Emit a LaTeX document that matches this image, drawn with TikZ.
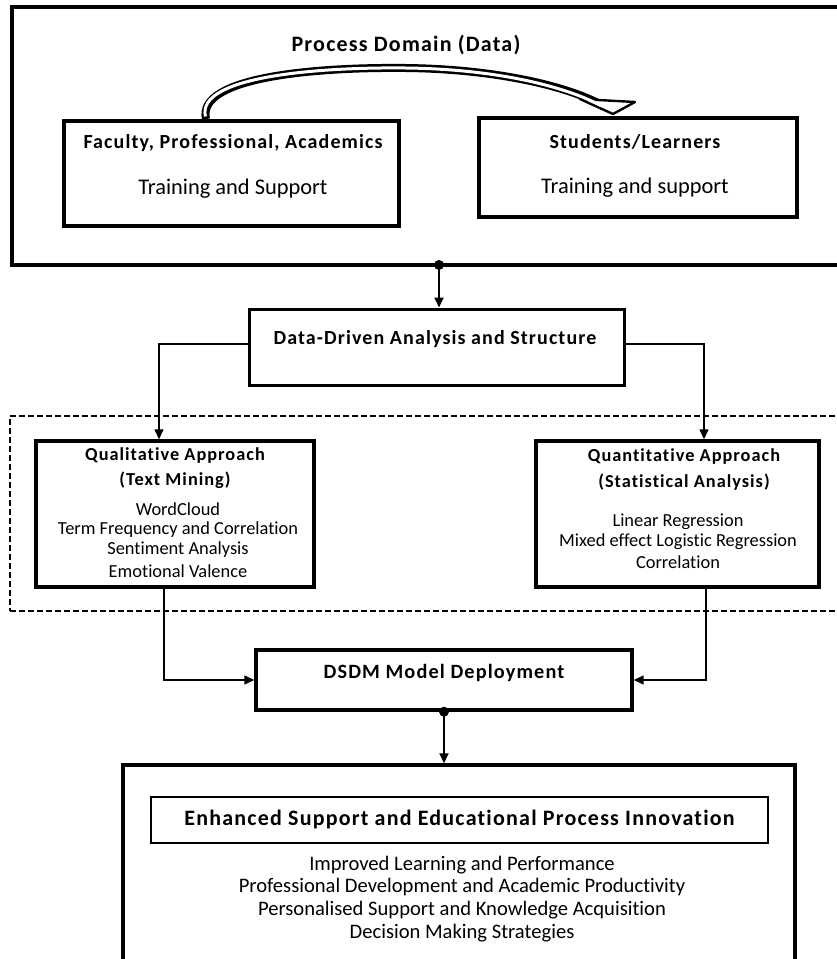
\documentclass[tikz,border=0pt]{standalone}
\usepackage{fontspec}
\setmainfont{Carlito}[Ligatures=NoCommon]
\newfontfamily\bsp{Carlito}[LetterSpace=5.5,Ligatures=NoCommon]
\usetikzlibrary{arrows.meta,calc}
\begin{document}
\begin{tikzpicture}[x=1pt,y=-1pt,
  tbox/.style={draw, line width=3.4pt, inner sep=0pt},
  bt/.style={inner sep=0pt, font=\bsp\bfseries\fontsize{#1}{#1}\selectfont},
  rt/.style={inner sep=0pt, font=\fontsize{#1}{#1}\selectfont},
  conn/.style={line width=1.3pt, -{Triangle[length=10pt,width=9pt]}},
  ]
\useasboundingbox (0,0) rectangle (837,959);
\clip (0,0) rectangle (837,959);

% dashed region
\node[draw, line width=1.4pt, dash pattern=on 6pt off 3pt, minimum width=900, minimum height=195, inner sep=0pt] (dash) at (460,513.5) {};

% top domain box
\node[tbox, minimum width=900, minimum height=258] (top) at (462,136) {};
\node[bt=22] (tpd) at (406,45) {Process Domain (Data)};

\node[tbox, minimum width=335, minimum height=105] (fac) at (231.5,173.5) {};
\node[bt=20] (fact) at (233,143) {Faculty, Professional, Academics};
\node[rt=22.4] (facs) at (233,189) {Training and Support};

\node[tbox, minimum width=318, minimum height=99] (stu) at (638,167.5) {};
\node[bt=20] (stut) at (635,142) {Students/Learners};
\node[rt=22.4] (stus) at (635,188) {Training and support};

% curved hollow arrow
\draw[line width=8pt] (206,119) .. controls (196,76) and (320,67) .. (406,68) .. controls (490,69) and (560,84) .. (598,103);
\filldraw[fill=white, line width=2.4pt, line join=round] (580,99) -- (635,102) -- (613,114) -- cycle;
\draw[line width=3pt, white, shorten <=2.6pt] (206,119) .. controls (196,76) and (320,67) .. (406,68) .. controls (490,69) and (560,84) .. (602,106);

% data-driven
\node[tbox, line width=3pt, minimum width=375, minimum height=76] (dd) at (436.5,347) {};
\node[bt=20] (ddt) at (435,339) {Data-Driven Analysis and Structure};

% qualitative
\node[tbox, minimum width=278, minimum height=146] (qual) at (175,514) {};
\node[bt=18.3] (qualt1) at (175,456) {Qualitative Approach};
\node[bt=18.3] (qualt2) at (175,480) {(Text Mining)};
\node[rt=18.4] (qual1) at (178,509) {WordCloud};
\node[rt=18.4] (qual2) at (178,530) {Term Frequency and Correlation};
\node[rt=18.4] (qual3) at (178,550) {Sentiment Analysis};
\node[rt=18.4] (qual4) at (178,571) {Emotional Valence};

% quantitative
\node[tbox, minimum width=283, minimum height=146] (quant) at (677.5,514) {};
\node[bt=18.3] (quantt1) at (684,457) {Quantitative Approach};
\node[bt=18.3] (quantt2) at (684,482) {(Statistical Analysis)};
\node[rt=18.4] (quant1) at (678,522) {Linear Regression};
\node[rt=18.4] (quant2) at (678,542) {Mixed effect Logistic Regression};
\node[rt=18.4] (quant3) at (678,562) {Correlation};

% DSDM
\node[tbox, minimum width=376, minimum height=60] (dsdm) at (444,680) {};
\node[bt=20.3] (dsdmt) at (444,673) {DSDM Model Deployment};

% bottom
\node[tbox, minimum width=672, minimum height=260] (bot) at (459,895) {};
\node[draw, line width=2pt, inner sep=0pt, minimum width=617, minimum height=46] (inner) at (459.5,820) {};
\node[bt=22] (enh) at (459.5,820) {Enhanced Support and Educational Process Innovation};
\node[rt=20.6] (b1) at (462,865) {Improved Learning and Performance};
\node[rt=20.6] (b2) at (462,887) {Professional Development and Academic Productivity};
\node[rt=20.6] (b3) at (462,910) {Personalised Support and Knowledge Acquisition};
\node[rt=20.6] (b4) at (462,933) {Decision Making Strategies};

% connectors
\coordinate (j1) at (439,265);
\fill (j1) circle (5);
\draw[conn, line width=1.8pt] (j1) -- (j1 |- dd.north);
\draw[conn] ([yshift=3pt]dd.west) -| ([xshift=-16pt]qual.north);
\draw[conn] ([yshift=3pt]dd.east) -| ([xshift=26.5pt]quant.north);
\draw[conn] ([xshift=-11pt]qual.south) |- (dsdm.west);
\draw[conn] ([xshift=28.5pt]quant.south) |- (dsdm.east);
\fill (dsdm.south) circle (5);
\draw[conn, line width=1.8pt] (dsdm.south) -- (dsdm.south |- bot.north);
\end{tikzpicture}
\end{document}
